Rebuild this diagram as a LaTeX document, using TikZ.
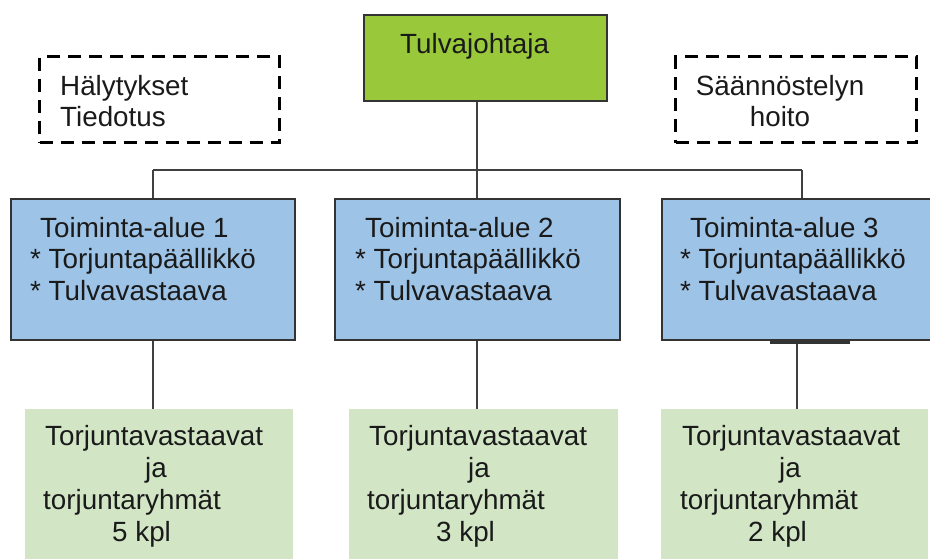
\documentclass[tikz,border=0pt]{standalone}
\usepackage{fontspec}
\setmainfont{Liberation Sans}
\usetikzlibrary{calc}
\definecolor{topgreen}{HTML}{99C93B}
\definecolor{areablue}{HTML}{9DC3E6}
\definecolor{teamgreen}{HTML}{D2E6C6}
\definecolor{edge}{HTML}{333333}
\definecolor{ink}{HTML}{1A1A1A}
\begin{document}
\begin{tikzpicture}[x=1pt,y=-1pt,
  box/.style={draw=edge, line width=2pt, anchor=north west, inner sep=0pt},
  dashbox/.style={draw=black, line width=3pt, dash pattern=on 13pt off 8pt, anchor=north west, inner sep=0pt},
  teambox/.style={fill=teamgreen, anchor=north west, inner sep=0pt},
  txt/.style={inner sep=0pt, anchor=base west, text=ink, font=\fontsize{27.8}{31.5}\selectfont},
  teamtxt/.style={txt, font=\fontsize{27.8}{32.3}\selectfont},
  wire/.style={draw=black!75, line width=2pt}]
\useasboundingbox (0,0) rectangle (930,558);

% boxes
\node[box, fill=topgreen, minimum width=243pt, minimum height=86pt] (top) at (363,14) {};
\node[dashbox, minimum width=240pt, minimum height=86pt] (alarm) at (38,55) {};
\node[dashbox, minimum width=241pt, minimum height=86pt] (reg) at (674,55) {};
\node[box, fill=areablue, minimum width=284pt, minimum height=141pt] (b1) at (10,198) {};
\node[box, fill=areablue, minimum width=285pt, minimum height=141pt] (b2) at (334,198) {};
\node[box, fill=areablue, minimum width=285pt, minimum height=141pt] (b3) at (661,198) {};
\node[teambox, minimum width=268pt, minimum height=160pt] (g1) at (25,409) {};
\node[teambox, minimum width=269pt, minimum height=160pt] (g2) at (349,409) {};
\node[teambox, minimum width=267pt, minimum height=160pt] (g3) at (661,409) {};

% connectors
\coordinate (bus1) at (153,170);
\coordinate (bus2) at (477,170);
\coordinate (bus3) at (802,170);
\coordinate (low3) at (797,374);
\draw[wire] (top.south -| bus2) -- (bus2);
\draw[wire] (bus1) -- (bus3);
\draw[wire] (bus1) -- (b1.north -| bus1);
\draw[wire] (bus2) -- (b2.north -| bus2);
\draw[wire] (bus3) -- (b3.north -| bus3);
\draw[wire] (b1.south -| bus1) -- (g1.north -| bus1);
\draw[wire] (b2.south -| bus2) -- (g2.north -| bus2);
\draw[wire] (b3.south -| low3) -- (g3.north -| low3);
\draw[edge, line width=3pt] ($(b3.south west)+(109,1.5)$) -- ++(80,0);

% texts
\node[txt] (toptext) at (400,53) {Tulvajohtaja};
\node[txt] (alarmtext) at (60,95) {\begin{tabular}[t]{@{}l@{}}Hälytykset\\Tiedotus\end{tabular}};
\node[txt, anchor=base] (regtext) at (780,95) {\begin{tabular}[t]{@{}c@{}}Säännöstelyn\\hoito\end{tabular}};

\node[txt] (t1) at (30,237) {\begin{tabular}[t]{@{}l@{}}\hspace*{10pt}Toiminta-alue 1\\{}* Torjuntapäällikkö\\{}* Tulvavastaava\end{tabular}};
\node[txt] (t2) at (355,237) {\begin{tabular}[t]{@{}l@{}}\hspace*{10pt}Toiminta-alue 2\\{}* Torjuntapäällikkö\\{}* Tulvavastaava\end{tabular}};
\node[txt] (t3) at (680,237) {\begin{tabular}[t]{@{}l@{}}\hspace*{10pt}Toiminta-alue 3\\{}* Torjuntapäällikkö\\{}* Tulvavastaava\end{tabular}};

\node[teamtxt] (s1) at (45,445) {\begin{tabular}[t]{@{}l@{}}Torjuntavastaavat\\\hspace*{100pt}ja\\\hspace*{-2pt}torjuntaryhmät\\\hspace*{67pt}5 kpl\end{tabular}};
\node[teamtxt] (s2) at (369,445) {\begin{tabular}[t]{@{}l@{}}Torjuntavastaavat\\\hspace*{99pt}ja\\\hspace*{-2pt}torjuntaryhmät\\\hspace*{67pt}3 kpl\end{tabular}};
\node[teamtxt] (s3) at (682,445) {\begin{tabular}[t]{@{}l@{}}Torjuntavastaavat\\\hspace*{97pt}ja\\\hspace*{-2pt}torjuntaryhmät\\\hspace*{66pt}2 kpl\end{tabular}};
\end{tikzpicture}
\end{document}
